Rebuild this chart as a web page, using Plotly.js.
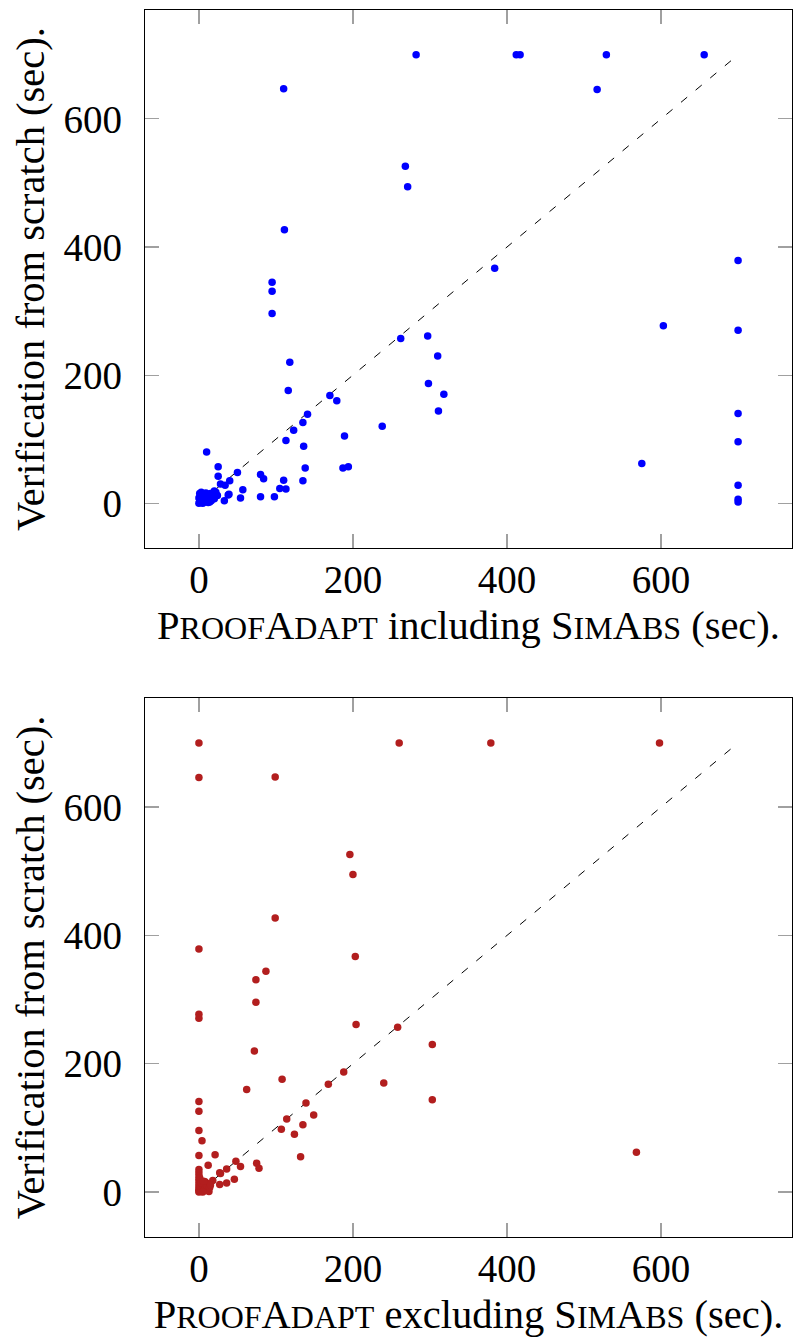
<!DOCTYPE html>
<html>
<head>
<meta charset="utf-8">
<script src="https://cdn.plot.ly/plotly-3.0.1.min.js"></script>
<style>html,body{margin:0;padding:0;background:#fff;}</style>
</head>
<body>
<div id="chart" style="width:793px;height:1338px;"></div>
<script>
// Top chart: PROOFADAPT including SIMABS (sec) vs Verification from scratch (sec)
const inclX = [282,412,417,529,656, 110,517, 268,271, 111,384,700, 95,95,95, 603,700,
  297,262,310, 118,298,116,318,170,179, 311,700,141,135,238,123, 189,113,700,136,
  10,575,25,194,187,138, 50,80,25,84,110,40,135, 28,34,700,105,113,57,
  20,39,38,98,80,54,33,700,700,
  0,1,2,3,4,5,6,7,8,9,10,11,12,13,15,16,18,20,22,24,2,0,1,3,5,14,17,6];
const inclY = [700,700,700,700,700, 647,646, 526,494, 427,367,379, 345,331,296, 277,270,
  261,257,230, 220,187,176,170,168,160, 144,140,139,126,120,114, 105,98,96,89,
  80,62,57,57,55,55, 48,45,42,38,36,35,35, 30,28,28,23,22,21,
  19,14,13,10,10,8,4,6,2,
  0,3,6,1,10,4,14,2,8,16,5,12,1,9,15,4,11,7,17,12,12,8,15,17,0,2,13,6];

// Bottom chart: PROOFADAPT excluding SIMABS (sec) vs Verification from scratch (sec)
const exclX = [0,260,379,598, 0,99, 196,200, 99,0,203, 87,74,74, 0,0,204,258,303,
  72,188,108,240,168,62, 303,0,139,0,149,114,135,107,0,124,
  4,568,0,21,132, 48,75,12,54,78,36, 27,28,46,18,8,36,27,
  0,0,0,0,0,0,0,0,0,
  1,2,3,4,5,6,7,8,9,10,11,12,13,14,2,1,3,5,6,15];
const exclY = [700,700,700,700, 646,647, 526,495, 427,379,367, 344,331,296, 277,271,261,257,230,
  220,187,176,170,168,160, 144,141,139,126,120,114,105,98,96,90,
  80,62,57,58,55, 48,45,42,40,37,36, 30,29,20,18,16,14,12,
  35,30,25,20,15,10,5,2,0,
  3,8,1,12,5,2,10,6,14,3,9,13,1,7,18,22,15,0,17,11];

// Reference diagonal y = x
const diagX = [0, 700];
const diagY = [0, 700];

const tickVals = [0, 200, 400, 600];
const tickText = ['0', '200', '400', '600'];

const FONT = 'Liberation Serif, Times New Roman, serif';
const TSIZE = 40.5;
const SC = 'font-size:32px';
const titleTop = 'P<span style="' + SC + '">ROOF</span>A<span style="' + SC + '">DAPT</span> including S<span style="' + SC + '">IM</span>A<span style="' + SC + '">BS</span> (sec).';
const titleBot = 'P<span style="' + SC + '">ROOF</span>A<span style="' + SC + '">DAPT</span> excluding S<span style="' + SC + '">IM</span>A<span style="' + SC + '">BS</span> (sec).';

function axisBase(extra) {
  return Object.assign({
    range: [-70, 770],
    tickmode: 'array', tickvals: tickVals, ticktext: tickText,
    ticks: 'inside', ticklen: 14, tickwidth: 1.2, tickcolor: '#a0a0a0',
    showline: true, linecolor: '#000', linewidth: 1.3, mirror: 'ticks',
    showgrid: false, zeroline: false,
    tickfont: {family: FONT, size: 39, color: '#000'},
    fixedrange: true
  }, extra);
}

const traces = [
  {x: diagX, y: diagY, xaxis: 'x', yaxis: 'y', mode: 'lines', type: 'scatter',
   line: {color: '#000', width: 1, dash: '8px,11px'}, showlegend: false, hoverinfo: 'skip'},
  {x: inclX, y: inclY, xaxis: 'x', yaxis: 'y', mode: 'markers', type: 'scatter',
   marker: {color: '#0000ff', size: 7.5}, showlegend: false},
  {x: diagX, y: diagY, xaxis: 'x2', yaxis: 'y2', mode: 'lines', type: 'scatter',
   line: {color: '#000', width: 1, dash: '8px,11px'}, showlegend: false, hoverinfo: 'skip'},
  {x: exclX, y: exclY, xaxis: 'x2', yaxis: 'y2', mode: 'markers', type: 'scatter',
   marker: {color: '#b21e1e', size: 7.5}, showlegend: false}
];

const layout = {
  width: 793, height: 1338,
  margin: {l: 145, r: 1, t: 10, b: 101},
  paper_bgcolor: '#fff', plot_bgcolor: '#fff',
  font: {family: FONT, size: 39, color: '#000'},
  xaxis: axisBase({domain: [0, 1], anchor: 'y', ticklabelstandoff: -3,
    title: {text: titleTop, font: {family: FONT, size: TSIZE, color: '#000'}, standoff: 10}}),
  yaxis: axisBase({domain: [0.5615, 1], anchor: 'x', ticklabelstandoff: 14,
    title: {text: 'Verification from scratch (sec).', font: {family: FONT, size: TSIZE, color: '#000'}, standoff: 6}}),
  xaxis2: axisBase({domain: [0, 1], anchor: 'y2', ticklabelstandoff: -3,
    title: {text: titleBot, font: {family: FONT, size: TSIZE, color: '#000'}, standoff: 10}}),
  yaxis2: axisBase({domain: [0, 0.4393], anchor: 'x2', ticklabelstandoff: 14,
    title: {text: 'Verification from scratch (sec).', font: {family: FONT, size: TSIZE, color: '#000'}, standoff: 6}})
};

Plotly.newPlot('chart', traces, layout, {displayModeBar: false, staticPlot: true});
</script>
</body>
</html>
